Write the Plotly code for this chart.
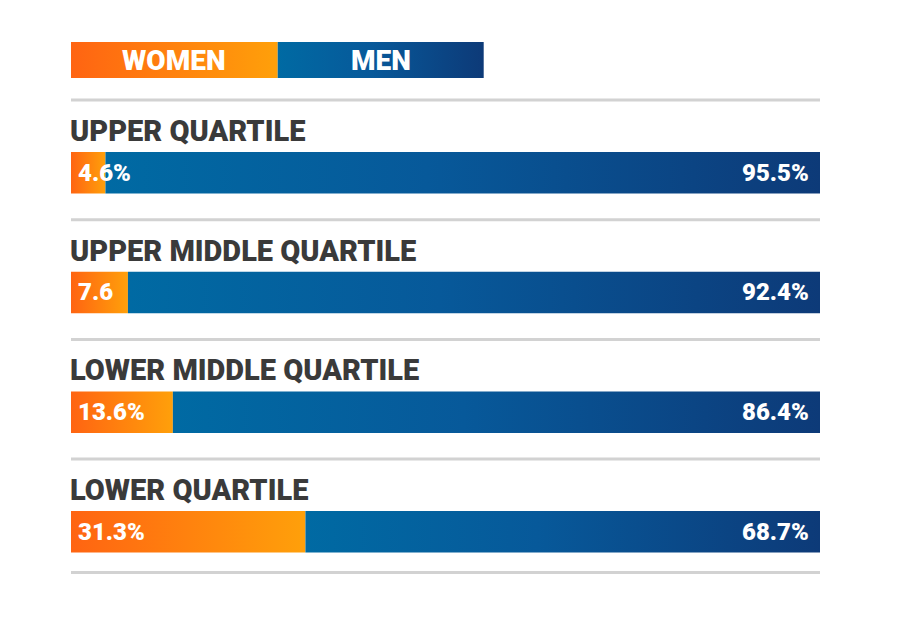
import plotly.graph_objects as go

# data
quartiles = ["UPPER QUARTILE", "UPPER MIDDLE QUARTILE", "LOWER MIDDLE QUARTILE", "LOWER QUARTILE"]
women = [4.6, 7.6, 13.6, 31.3]
men = [95.5, 92.4, 86.4, 68.7]
women_text = ["4.6%", "7.6", "13.6%", "31.3%"]
men_text = ["95.5%", "92.4%", "86.4%", "68.7%"]
series_names = ["WOMEN", "MEN"]

# styling
women_grad = [[0, "#ff6412"], [1, "#ffa00a"]]
men_grad = [[0, "#006aa3"], [0.45, "#07599a"], [1, "#0d3a78"]]
label_font = dict(family="Roboto", size=29, color="#3a3a3a", weight=900)
value_font = dict(family="Roboto", size=24, color="white", weight=900)
legend_font = dict(family="Roboto", size=28, color="white", weight=900)

# page offset (body margin) and row geometry in page pixels
page_off = 8
first_bar_top = 152
row_step = 119.7
bar_h = 41.5
legend_top, legend_bottom = 42, 78
legend_split = 27.6   # legend halves, in x-axis units
legend_end = 55.1


def grad_box(x0, x1, y0, y1, grad):
    return go.Scatter(
        x=[x0, x1, x1, x0, x0], y=[y0, y0, y1, y1, y0],
        mode="lines", fill="toself", line=dict(width=0),
        fillgradient=dict(type="horizontal", colorscale=grad),
        hoverinfo="skip", showlegend=False,
    )


fig = go.Figure()
annotations = []
shapes = []

# legend
fig.add_trace(grad_box(0, legend_split, legend_top, legend_bottom, women_grad))
fig.add_trace(grad_box(legend_split, legend_end, legend_top, legend_bottom, men_grad))
for name, xc in zip(series_names, [legend_split / 2, (legend_split + legend_end) / 2]):
    annotations.append(dict(x=xc, y=(legend_top + legend_bottom) / 2, text=name,
                            showarrow=False, xanchor="center", yanchor="middle",
                            font=legend_font))

for i, q in enumerate(quartiles):
    top = first_bar_top + i * row_step
    bottom = top + bar_h
    mid = (top + bottom) / 2
    fig.add_trace(grad_box(0, women[i], top, bottom, women_grad))
    fig.add_trace(grad_box(women[i], women[i] + men[i], top, bottom, men_grad))

    annotations.append(dict(x=0, y=top - 21, text=q, showarrow=False,
                            xanchor="left", yanchor="middle", xshift=-3, font=label_font))
    annotations.append(dict(x=0, y=mid, text=women_text[i], showarrow=False,
                            xanchor="left", yanchor="middle", xshift=5, font=value_font))
    annotations.append(dict(x=100, y=mid, text=men_text[i], showarrow=False,
                            xanchor="right", yanchor="middle", xshift=-9, font=value_font))
    shapes.append(dict(type="line", xref="x", yref="y", x0=0, x1=100,
                       y0=top - 52, y1=top - 52, line=dict(color="#d2d2d2", width=3)))

last_bottom = first_bar_top + (len(quartiles) - 1) * row_step + bar_h
shapes.append(dict(type="line", xref="x", yref="y", x0=0, x1=100,
                   y0=last_bottom + 20, y1=last_bottom + 20, line=dict(color="#d2d2d2", width=3)))

fig.update_layout(
    width=900, height=617,
    margin=dict(l=71 - page_off, r=80 + page_off, t=0, b=0),
    paper_bgcolor="white", plot_bgcolor="white",
    xaxis=dict(range=[0, 100], visible=False, fixedrange=True),
    yaxis=dict(range=[617 + page_off, page_off], visible=False, fixedrange=True),
    annotations=annotations, shapes=shapes,
    showlegend=False,
)

fig.write_html("out.html")
